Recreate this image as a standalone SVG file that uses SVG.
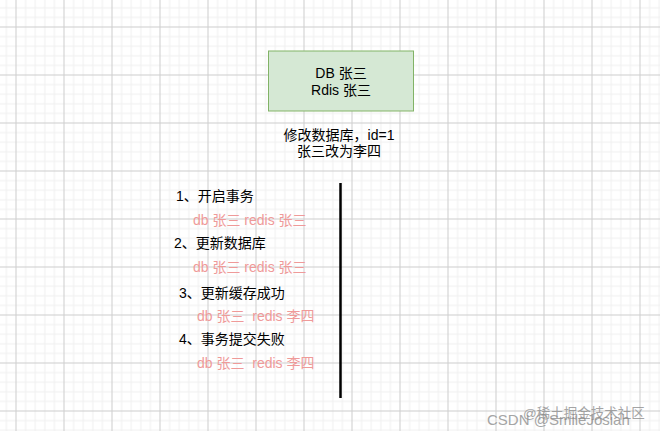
<svg xmlns="http://www.w3.org/2000/svg" width="660" height="431" viewBox="0 0 660 431">
<style>
text{font-family:"Liberation Sans","Noto Sans CJK SC",sans-serif;font-size:14px;fill:#000}
.c{text-anchor:middle}
.pink{fill:#ef9a99}
.wm{fill:#888;opacity:0.75}
</style>
<defs>
<pattern id="grid" patternUnits="userSpaceOnUse" x="15.5" y="26.5" width="48" height="48">
<path d="M10.1 0V48M19.7 0V48M29.3 0V48M38.9 0V48M0 10.1H48M0 19.7H48M0 29.3H48M0 38.9H48" stroke="#efefef" stroke-width="1" fill="none"/>
<path d="M0.5 0V48M0 0.5H48" stroke="#cdcdcd" stroke-width="1" fill="none"/>
</pattern>
</defs>
<rect width="660" height="431" fill="#fff"/>
<rect width="660" height="431" fill="url(#grid)"/>
<g id="node-state">
<rect x="268.5" y="51" width="145" height="60" fill="#d5e8d4" stroke="#82b366" stroke-width="1"/>
<text class="c" x="341" y="78">DB 张三</text>
<text class="c" x="341" y="95">Rdis 张三</text>
</g>
<g id="node-update">
<text class="c" x="339" y="140">修改数据库，id=1</text>
<text class="c" x="339" y="156">张三改为李四</text>
</g>
<g id="node-step1">
<text x="176" y="201">1、开启事务</text>
<text class="pink" x="193" y="225">db 张三 redis 张三</text>
</g>
<g id="node-step2">
<text x="174" y="248">2、更新数据库</text>
<text class="pink" x="193" y="272">db 张三 redis 张三</text>
</g>
<g id="node-step3">
<text x="179" y="298">3、更新缓存成功</text>
<text class="pink" x="197" y="321" xml:space="preserve">db 张三  redis 李四</text>
</g>
<g id="node-step4">
<text x="179" y="344">4、事务提交失败</text>
<text class="pink" x="197" y="368" xml:space="preserve">db 张三  redis 李四</text>
</g>
<g id="connectors">
<line x1="340.5" y1="183" x2="340.5" y2="398" stroke="#000" stroke-width="2.5"/>
</g>
<g id="watermark">
<text class="wm" x="523" y="418" style="font-size:13.5px">@稀土掘金技术社区</text>
<text class="wm" x="487" y="425" style="font-size:15px">CSDN @SmileJosiah</text>
</g>
</svg>
